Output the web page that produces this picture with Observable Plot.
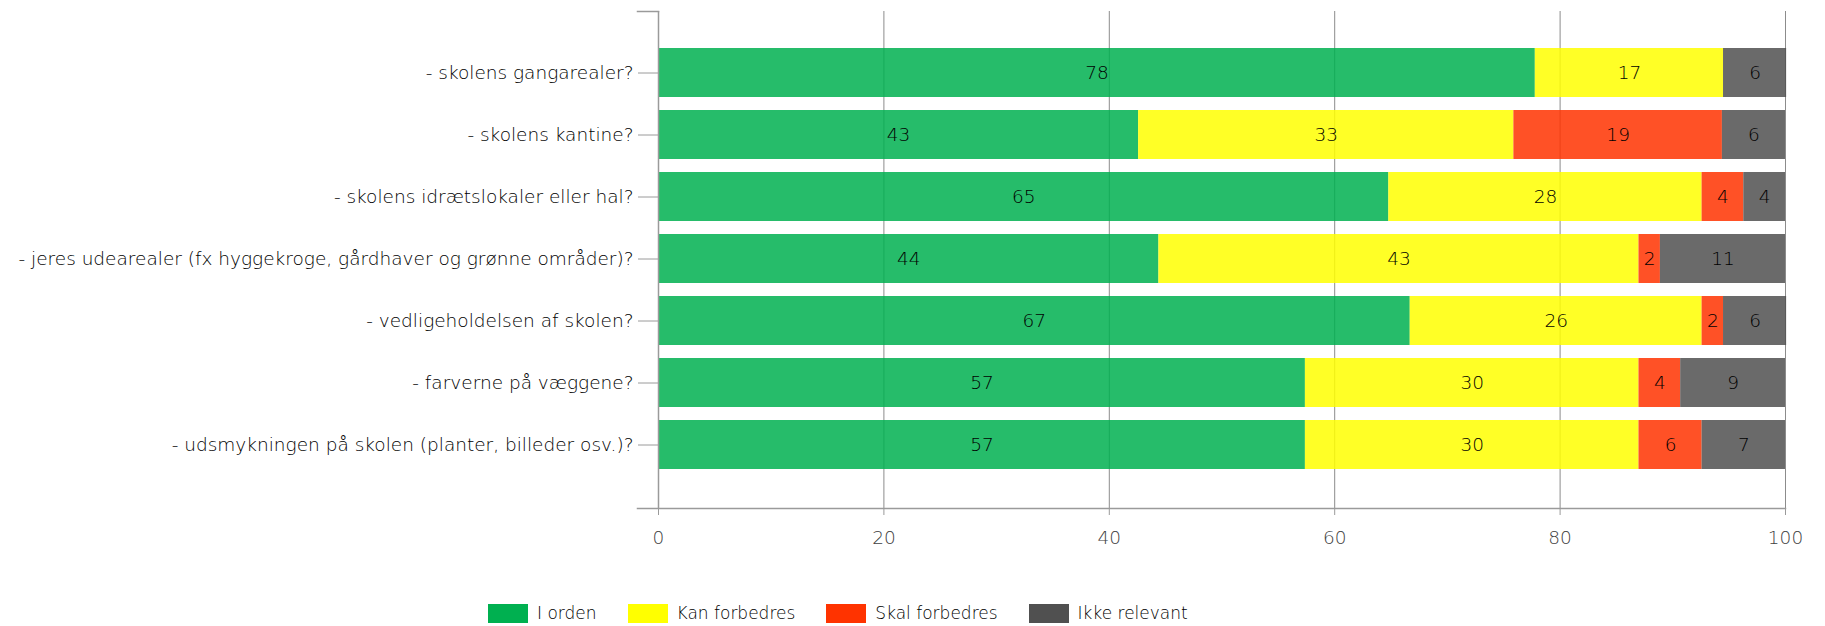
<!DOCTYPE html>
<html>
<head>
<meta charset="utf-8">
<script src="https://cdn.jsdelivr.net/npm/d3@7"></script>
<script src="https://cdn.jsdelivr.net/npm/@observablehq/plot@0.6"></script>
<style>
  html, body { margin: 0; padding: 0; background: #fff; }
  body { width: 1825px; height: 626px; position: relative; overflow: hidden; font-family: "DejaVu Sans", sans-serif; }
  #chart svg { display: block; }
  #legend { position: absolute; left: 488px; top: 603px; display: flex; align-items: center; font-size: 17px; font-weight: 200; color: #000; }
  #legend .item { display: flex; align-items: center; margin-right: 31px; }
  #legend .sw { width: 40px; height: 19px; margin-right: 9px; }
</style>
</head>
<body>
<div id="chart"></div>
<div id="legend"></div>
<script>
// ---- data ----
const categories = [
  "- skolens gangarealer?",
  "- skolens kantine?",
  "- skolens idrætslokaler eller hal?",
  "- jeres udearealer (fx hyggekroge, gårdhaver og grønne områder)?",
  "- vedligeholdelsen af skolen?",
  "- farverne på væggene?",
  "- udsmykningen på skolen (planter, billeder osv.)?"
];
const seriesNames = ["I orden", "Kan forbedres", "Skal forbedres", "Ikke relevant"];
const iOrden        = [77.8, 42.6, 64.8, 44.4, 66.7, 57.4, 57.4];
const kanForbedres  = [16.7, 33.3, 27.8, 42.6, 25.9, 29.6, 29.6];
const skalForbedres = [0.0, 18.5, 3.7, 1.9, 1.9, 3.7, 5.6];
const ikkeRelevant  = [5.6, 5.6, 3.7, 11.1, 5.6, 9.3, 7.4];
const seriesColors  = ["#00B050", "#FFFF00", "#FF3300", "#505050"];
const xTicks = [0, 20, 40, 60, 80, 100];

// ---- table ----
const seriesValues = [iOrden, kanForbedres, skalForbedres, ikkeRelevant];
const table = categories.flatMap((c, i) =>
  seriesNames.map((s, j) => ({category: c, series: s, value: seriesValues[j][i]}))
);

// ---- layout ----
const W = 1825, H = 580;
const mL = 658, mR = 40, mT = 11, mB = 72;
const frameW = W - mL - mR;
const font = "'DejaVu Sans', sans-serif";

const chart = Plot.plot({
  width: W,
  height: H,
  marginLeft: mL,
  marginRight: mR,
  marginTop: mT,
  marginBottom: mB,
  style: {fontFamily: font, fontSize: "18.5px", fontWeight: 200, background: "#fff"},
  x: {domain: [0, 100]},
  y: {domain: categories, range: [34.6, 482.6], padding: 0.211},
  color: {domain: seriesNames, range: seriesColors},
  marks: [
    Plot.ruleX(xTicks, {stroke: "#8c8c8c", strokeWidth: 1}),
    Plot.barX(table, Plot.stackX({
      x: "value", y: "category", fill: "series", fillOpacity: 0.85
    })),
    Plot.text(table, Plot.stackX({
      x: "value", y: "category",
      text: d => d.value > 0 ? String(Math.round(d.value)) : "",
      fill: "#000", fontSize: 18.5, fontWeight: 200
    })),
    Plot.ruleX([0], {stroke: "#9a9a9a", strokeWidth: 1.5}),
    Plot.frame({anchor: "bottom", stroke: "#9a9a9a", strokeWidth: 1.5, insetLeft: -21}),
    Plot.frame({anchor: "top", stroke: "#9a9a9a", strokeWidth: 1.5, insetLeft: -21, insetRight: frameW}),
    Plot.axisY({tickSize: 20, tickPadding: 5, stroke: "#9a9a9a", fill: "#000", label: null}),
    Plot.axisX({ticks: xTicks, tickSize: 7, tickPadding: 15, stroke: "#9a9a9a", fill: "#404040", label: null})
  ]
});
document.getElementById("chart").appendChild(chart);

// ---- legend ----
const legend = d3.select("#legend");
seriesNames.forEach((s, i) => {
  const it = legend.append("div").attr("class", "item");
  it.append("div").attr("class", "sw").style("background", seriesColors[i]);
  it.append("span").text(s);
});
</script>
</body>
</html>
